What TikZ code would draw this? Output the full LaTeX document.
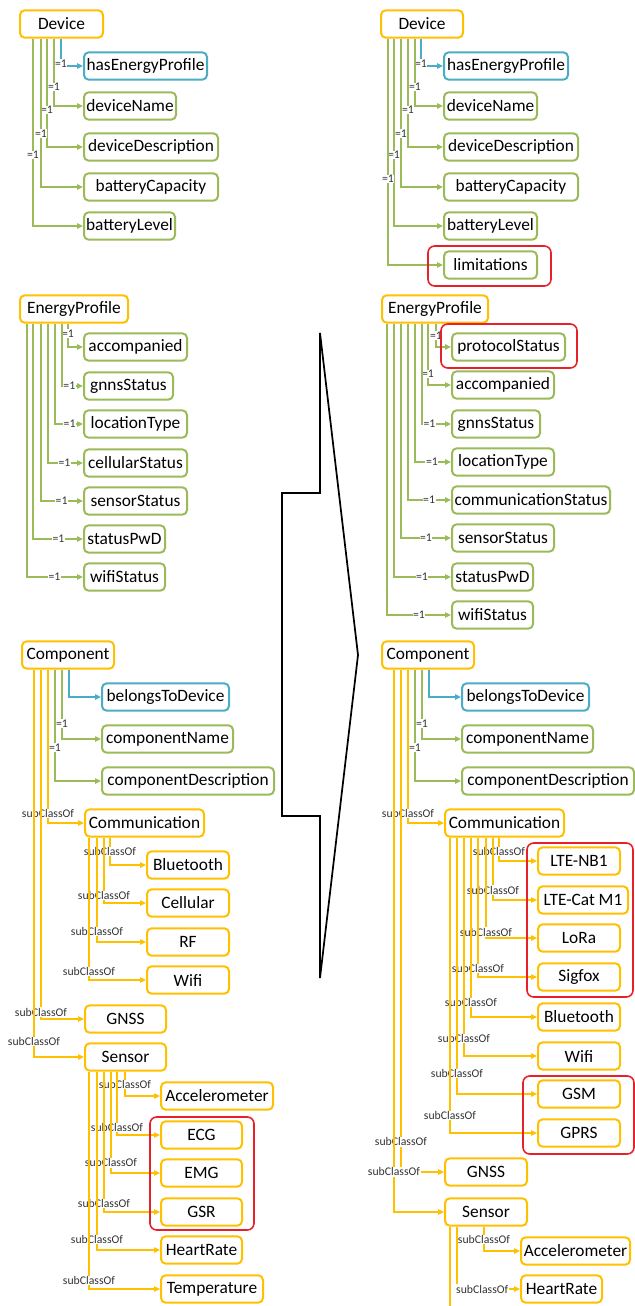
\documentclass[tikz,border=0pt]{standalone}
\usepackage{fontspec}
\setmainfont{Carlito}
\usetikzlibrary{arrows.meta,calc}
\definecolor{o}{HTML}{FFC000}
\definecolor{g}{HTML}{9BBB59}
\definecolor{b}{HTML}{4BACC6}
\definecolor{r}{HTML}{E8202A}
\tikzset{
  box/.style={draw=#1,line width=1.5pt,rounded corners=3.5pt,fill=white,minimum height=20.5pt,inner sep=1pt,anchor=west,font=\fontsize{13}{15}\selectfont},
  wd/.style={minimum width=(#1-2)*0.75pt},
  link/.style={draw=#1,line width=1pt,-{Triangle[length=4.5pt,width=4pt]}},
  lbl/.style={fill=white,inner sep=0.4pt,text=black!80,font=\fontsize{8.8}{10}\selectfont},
  redbox/.style={draw=r,line width=1.2pt,rounded corners=5pt}
}
\begin{document}
\begin{tikzpicture}[x=0.75pt,y=-0.75pt]
  \useasboundingbox (0,0) rectangle (635,1306);
  % left: before
  \node[box=o,wd=85] (dev) at (19,24) {Device};
  \node[box=b,wd=125] (hep) at (83,66) {hasEnergyProfile};
  \node[box=g,wd=94] (dn) at (83,106) {deviceName};
  \node[box=g,wd=136] (dd) at (83,147) {deviceDescription};
  \node[box=g,wd=136] (bc) at (83,187) {batteryCapacity};
  \node[box=g,wd=93] (bl) at (83,226) {batteryLevel};
  \draw[link=b] ($(dev.south west)+(42,0)$) |- (hep.west) node[lbl,pos=.45] {=1};
  \draw[link=g] ($(dev.south west)+(35,0)$) |- (dn.west) node[lbl,pos=.36] {=1};
  \draw[link=g] ($(dev.south west)+(28,0)$) |- (dd.west) node[lbl,pos=.33] {=1};
  \draw[link=g] ($(dev.south west)+(22,0)$) |- (bc.west) node[lbl,pos=.32] {=1};
  \draw[link=g] ($(dev.south west)+(14,0)$) |- (bl.west) node[lbl,pos=.31] {=1};

  \node[box=o,wd=110] (ep) at (19,309) {EnergyProfile};
  \node[box=g,wd=105] (acc) at (83,347) {accompanied};
  \node[box=g,wd=91] (gnss) at (83,386) {gnnsStatus};
  \node[box=g,wd=105] (loc) at (83,424) {locationType};
  \node[box=g,wd=105] (cell) at (83,463) {cellularStatus};
  \node[box=g,wd=105] (sens) at (83,501) {sensorStatus};
  \node[box=g,wd=83] (pwd) at (83,539) {statusPwD};
  \node[box=g,wd=83] (wifi) at (83,577) {wifiStatus};
  \draw[link=g] ($(ep.south west)+(49,0)$) |- (acc.west) node[lbl,pos=.21] {=1};
  \draw[link=g] ($(ep.south west)+(43,0)$) |- (gnss.west) node[lbl,pos=.675] {=1};
  \draw[link=g] ($(ep.south west)+(36,0)$) |- (loc.west) node[lbl,pos=.76] {=1};
  \draw[link=g] ($(ep.south west)+(29,0)$) |- (cell.west) node[lbl,pos=.735] {=1};
  \draw[link=g] ($(ep.south west)+(22,0)$) |- (sens.west) node[lbl,pos=.745] {=1};
  \draw[link=g] ($(ep.south west)+(14,0)$) |- (pwd.west) node[lbl,pos=.755] {=1};
  \draw[link=g] ($(ep.south west)+(8,0)$) |- (wifi.west) node[lbl,pos=.745] {=1};

  \node[box=o,wd=94] (comp) at (21,655) {Component};
  \node[box=b,wd=129] (btd) at (101,697) {belongsToDevice};
  \node[box=g,wd=133] (cn) at (101,739) {componentName};
  \node[box=g,wd=174] (cd) at (101,781) {componentDescription};
  \node[box=o,wd=121] (comm) at (84,823) {Communication};
  \node[box=o,wd=84] (bt) at (146,865) {Bluetooth};
  \node[box=o,wd=84] (cel) at (146,903) {Cellular};
  \node[box=o,wd=84] (rf) at (146,942) {RF};
  \node[box=o,wd=84] (wf) at (146,980) {Wifi};
  \node[box=o,wd=83] (gn) at (84,1019) {GNSS};
  \node[box=o,wd=83] (sen) at (84,1057) {Sensor};
  \node[box=o,wd=114] (acl) at (160,1096) {Accelerometer};
  \node[box=o,wd=83] (ecg) at (160,1135) {ECG};
  \node[box=o,wd=83] (emg) at (160,1173) {EMG};
  \node[box=o,wd=83] (gsr) at (160,1212) {GSR};
  \node[box=o,wd=83] (hr) at (160,1250) {HeartRate};
  \node[box=o,wd=104] (tmp) at (160,1289) {Temperature};
  \draw[link=b] ($(comp.south west)+(48,0)$) |- (btd.west);
  \draw[link=g] ($(comp.south west)+(41,0)$) |- (cn.west) node[lbl,pos=.39] {=1};
  \draw[link=g] ($(comp.south west)+(34,0)$) |- (cd.west) node[lbl,pos=.35] {=1};
  \draw[link=o] ($(comp.south west)+(27,0)$) |- (comm.west) node[lbl,pos=.47] {subClassOf};
  \draw[link=o] ($(comp.south west)+(20,0)$) |- (gn.west) node[lbl,pos=.49] {subClassOf};
  \draw[link=o] ($(comp.south west)+(13,0)$) |- (sen.west) node[lbl,pos=.48] {subClassOf};
  \draw[link=o] ($(comm.south west)+(26,0)$) |- (bt.west) node[lbl,pos=.25] {subClassOf};
  \draw[link=o] ($(comm.south west)+(20,0)$) |- (cel.west) node[lbl,pos=.44] {subClassOf};
  \draw[link=o] ($(comm.south west)+(13,0)$) |- (rf.west) node[lbl,pos=.45] {subClassOf};
  \draw[link=o] ($(comm.south west)+(5,0)$) |- (wf.west) node[lbl,pos=.47] {subClassOf};
  \draw[link=o] ($(sen.south west)+(41,0)$) |- (acl.west) node[lbl,pos=.27] {subClassOf};
  \draw[link=o] ($(sen.south west)+(33,0)$) |- (ecg.west) node[lbl,pos=.44] {subClassOf};
  \draw[link=o] ($(sen.south west)+(27,0)$) |- (emg.west) node[lbl,pos=.45] {subClassOf};
  \draw[link=o] ($(sen.south west)+(20,0)$) |- (gsr.west) node[lbl,pos=.47] {subClassOf};
  \draw[link=o] ($(sen.south west)+(13,0)$) |- (hr.west) node[lbl,pos=.47] {subClassOf};
  \draw[link=o] ($(sen.south west)+(5,0)$) |- (tmp.west) node[lbl,pos=.48] {subClassOf};
  \draw[redbox] (150,1117) rectangle (254,1230);

  % right: after
  \node[box=o,wd=84] (rdev) at (380,24) {Device};
  \node[box=b,wd=126] (rhep) at (443,66) {hasEnergyProfile};
  \node[box=g,wd=95] (rdn) at (443,106) {deviceName};
  \node[box=g,wd=136] (rdd) at (443,147) {deviceDescription};
  \node[box=g,wd=136] (rbc) at (443,187) {batteryCapacity};
  \node[box=g,wd=95] (rbl) at (443,226) {batteryLevel};
  \node[box=g,wd=95] (rlim) at (443,265) {limitations};
  \draw[link=b] ($(rdev.south west)+(41,0)$) |- (rhep.west) node[lbl,pos=.45] {=1};
  \draw[link=g] ($(rdev.south west)+(35,0)$) |- (rdn.west) node[lbl,pos=.36] {=1};
  \draw[link=g] ($(rdev.south west)+(28,0)$) |- (rdd.west) node[lbl,pos=.33] {=1};
  \draw[link=g] ($(rdev.south west)+(21,0)$) |- (rbc.west) node[lbl,pos=.32] {=1};
  \draw[link=g] ($(rdev.south west)+(14,0)$) |- (rbl.west) node[lbl,pos=.31] {=1};
  \draw[link=g] ($(rdev.south west)+(8,0)$) |- (rlim.west) node[lbl,pos=.31] {=1};
  \draw[redbox] (428,246) rectangle (551,286);

  \node[box=o,wd=108] (rep) at (381,309) {EnergyProfile};
  \node[box=g,wd=115] (rps) at (451,347) {protocolStatus};
  \node[box=g,wd=104] (racc) at (451,385) {accompanied};
  \node[box=g,wd=90] (rgnss) at (451,424) {gnnsStatus};
  \node[box=g,wd=104] (rloc) at (451,462) {locationType};
  \node[box=g,wd=160] (rcs) at (451,500) {communicationStatus};
  \node[box=g,wd=104] (rsens) at (451,538) {sensorStatus};
  \node[box=g,wd=83] (rpwd) at (451,577) {statusPwD};
  \node[box=g,wd=83] (rwifi) at (451,615) {wifiStatus};
  \draw[link=g] ($(rep.south west)+(55,0)$) |- (rps.west) node[lbl,pos=.25] {=1};
  \draw[link=g] ($(rep.south west)+(47,0)$) |- (racc.west) node[lbl,pos=.41] {=1};
  \draw[link=g] ($(rep.south west)+(41,0)$) |- (rgnss.west) node[lbl,pos=.63] {=1};
  \draw[link=g] ($(rep.south west)+(34,0)$) |- (rloc.west) node[lbl,pos=.735] {=1};
  \draw[link=g] ($(rep.south west)+(27,0)$) |- (rcs.west) node[lbl,pos=.745] {=1};
  \draw[link=g] ($(rep.south west)+(20,0)$) |- (rsens.west) node[lbl,pos=.75] {=1};
  \draw[link=g] ($(rep.south west)+(13,0)$) |- (rpwd.west) node[lbl,pos=.745] {=1};
  \draw[link=g] ($(rep.south west)+(6,0)$) |- (rwifi.west) node[lbl,pos=.75] {=1};
  \draw[redbox] (441,324) rectangle (577,368);

  \node[box=o,wd=94] (rcomp) at (381,655) {Component};
  \node[box=b,wd=129] (rbtd) at (461,697) {belongsToDevice};
  \node[box=g,wd=133] (rcn) at (461,739) {componentName};
  \node[box=g,wd=174] (rcd) at (461,781) {componentDescription};
  \node[box=o,wd=121] (rcomm) at (444,823) {Communication};
  \node[box=o,wd=84] (rnb) at (537,861) {LTE-NB1};
  \node[box=o,wd=92] (rcat) at (537,900) {LTE-Cat M1};
  \node[box=o,wd=84] (rlora) at (537,938) {LoRa};
  \node[box=o,wd=84] (rsig) at (537,977) {Sigfox};
  \node[box=o,wd=84] (rbt) at (537,1017) {Bluetooth};
  \node[box=o,wd=84] (rwf) at (537,1056) {Wifi};
  \node[box=o,wd=84] (rgsm) at (537,1094) {GSM};
  \node[box=o,wd=84] (rgprs) at (537,1133) {GPRS};
  \node[box=o,wd=84] (rgn) at (444,1172) {GNSS};
  \node[box=o,wd=84] (rsen) at (444,1212) {Sensor};
  \node[box=o,wd=111] (racl) at (520,1251) {Accelerometer};
  \node[box=o,wd=83] (rhr) at (520,1289) {HeartRate};
  \coordinate (rmore) at (450,1310);
  \draw[link=b] ($(rcomp.south west)+(48,0)$) |- (rbtd.west);
  \draw[link=g] ($(rcomp.south west)+(41,0)$) |- (rcn.west) node[lbl,pos=.39] {=1};
  \draw[link=g] ($(rcomp.south west)+(34,0)$) |- (rcd.west) node[lbl,pos=.35] {=1};
  \draw[link=o] ($(rcomp.south west)+(27,0)$) |- (rcomm.west) node[lbl,pos=.47] {subClassOf};
  \draw[link=o] ($(rcomp.south west)+(20,0)$) |- (rgn.west) node[lbl,pos=.47] {subClassOf};
  \draw[link=o] ($(rcomp.south west)+(13,0)$) |- (rsen.west) node[lbl,pos=.463] {subClassOf};
  \draw[link=o] ($(rcomm.south west)+(55,0)$) |- (rnb.west) node[lbl,pos=.29] {subClassOf};
  \draw[link=o] ($(rcomm.south west)+(49,0)$) |- (rcat.west) node[lbl,pos=.42] {subClassOf};
  \draw[link=o] ($(rcomm.south west)+(42,0)$) |- (rlora.west) node[lbl,pos=.47] {subClassOf};
  \draw[link=o] ($(rcomm.south west)+(34,0)$) |- (rsig.west) node[lbl,pos=.47] {subClassOf};
  \draw[link=o] ($(rcomm.south west)+(27,0)$) |- (rbt.west) node[lbl,pos=.46] {subClassOf};
  \draw[link=o] ($(rcomm.south west)+(20,0)$) |- (rwf.west) node[lbl,pos=.46] {subClassOf};
  \draw[link=o] ($(rcomm.south west)+(13,0)$) |- (rgsm.west) node[lbl,pos=.46] {subClassOf};
  \draw[link=o] ($(rcomm.south west)+(6,0)$) |- (rgprs.west) node[lbl,pos=.47] {subClassOf};
  \draw[link=o] ($(rsen.south west)+(40,0)$) |- (racl.west) node[lbl,pos=.26] {subClassOf};
  \draw[link=o] ($(rsen.south west)+(13,0)$) |- (rhr.west) node[lbl,pos=.70] {subClassOf};
  \draw[draw=o,line width=1pt] ($(rsen.south west)+(6,0)$) -- (rmore);
  \draw[redbox] (527,843) rectangle (633,997);
  \draw[redbox] (523,1076) rectangle (634,1154);

  % middle arrow
  \draw[line width=1.3pt,line join=miter] (320,333) -- (358,655) -- (320,978) -- (320,816)
    -- (282,816) -- (282,493) -- (320,493) -- cycle;
\end{tikzpicture}
\end{document}
